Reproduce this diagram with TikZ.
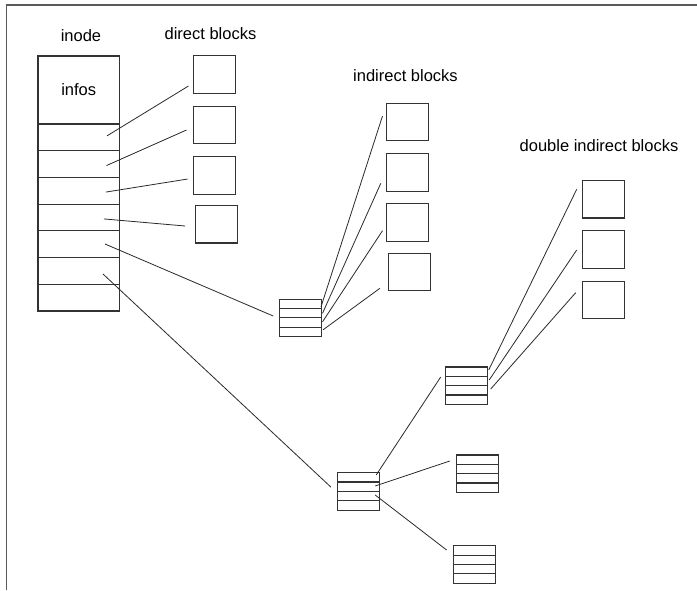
\documentclass[tikz,border=0pt]{standalone}
\usepackage{fontspec}
\setmainfont{Liberation Sans}
\usetikzlibrary{calc}
\definecolor{boxc}{HTML}{333333}
\definecolor{linec}{HTML}{2A2A2A}
\definecolor{framec}{HTML}{5A5A5A}
\tikzset{
  lbl/.style={anchor=base, inner sep=0pt, text=black, font=\fontsize{16.5}{18}\selectfont},
  cell/.style={draw=boxc, line width=1.2pt, minimum width=81.5pt, minimum height=26.7pt, inner sep=0pt, outer sep=0pt},
  datablk/.style={draw=boxc, line width=1.2pt, minimum width=42pt, minimum height=37.5pt, inner sep=0pt, outer sep=0pt},
  ptrblk/.style={draw=boxc, line width=1.2pt, minimum width=42pt, minimum height=37.5pt, inner sep=0pt, outer sep=0pt,
    path picture={
      \foreach \k in {1,2,3}
        \draw[boxc, line width=1.2pt]
          ($(path picture bounding box.north west)!\k/4!(path picture bounding box.south west)$) --
          ($(path picture bounding box.north east)!\k/4!(path picture bounding box.south east)$);
    }},
  conn/.style={draw=linec, line width=0.8pt},
  framel/.style={draw=framec, line width=1.6pt}
}
\begin{document}
\begin{tikzpicture}[x=1pt, y=-1pt]
\useasboundingbox (0,0) rectangle (697,590);
\fill[white] (0,0) rectangle (697,590);
% frame
\draw[framel] (6.5,590) -- (6.5,5) -- (697,5);

% labels
\node[lbl] (tinode) at (81,41) {inode};
\node[lbl] (tdirect) at (210.5,39.3) {direct blocks};
\node[lbl] (tindirect) at (405.5,81) {indirect blocks};
\node[lbl] (tdouble) at (599,151.7) {double indirect blocks};

% inode
\node[cell, minimum height=68pt, font=\fontsize{16.5}{18}\selectfont] (infos) at (78.75,90) {\raisebox{-2pt}{infos}};
\node[cell] (r1) at (78.75,137.35) {};
\node[cell] (r2) at (78.75,164.05) {};
\node[cell] (r3) at (78.75,190.75) {};
\node[cell] (r4) at (78.75,217.45) {};
\node[cell] (r5) at (78.75,244.15) {};
\node[cell] (r6) at (78.75,270.85) {};
\node[cell] (r7) at (78.75,297.55) {};

% direct blocks
\node[datablk] (d1) at (214.5,74.5) {};
\node[datablk] (d2) at (214.5,125) {};
\node[datablk] (d3) at (214.5,175.35) {};
\node[datablk] (d4) at (216.2,224.2) {};

% indirect
\node[ptrblk] (i0) at (300.5,317.85) {};
\node[datablk] (n1) at (407.5,122) {};
\node[datablk] (n2) at (407.5,172.5) {};
\node[datablk] (n3) at (407.5,222.5) {};
\node[datablk] (n4) at (409.2,272) {};

% double indirect
\node[ptrblk] (b0) at (358.5,491.35) {};
\node[ptrblk] (m0) at (466.7,385.7) {};
\node[ptrblk] (c1) at (477.5,473.65) {};
\node[ptrblk] (c2) at (474.2,564.5) {};
\node[datablk] (q1) at (603.3,199.2) {};
\node[datablk] (q2) at (603.3,249.35) {};
\node[datablk] (q3) at (603.3,300) {};

% connectors inode -> direct
\draw[conn] ([shift={(-12.5,-1.5)}]r1.east) -- ([shift={(-5,11.5)}]d1.west);
\draw[conn] ([shift={(-13,1.5)}]r2.east) -- ([shift={(-7,5)}]d2.west);
\draw[conn] ([shift={(-13.5,1.3)}]r3.east) -- ([shift={(-6,3.7)}]d3.west);
\draw[conn] ([shift={(-15.5,1.5)}]r4.east) -- ([shift={(-10,1.8)}]d4.west);
% inode -> indirect pointer block
\draw[conn] ([shift={(-14.5,-0.15)}]r5.east) -- ([shift={(-6.3,-1.85)}]i0.west);
% inode -> double indirect pointer block
\draw[conn] ([shift={(-16.5,3.15)}]r6.east) -- ([shift={(-6.7,-4.35)}]b0.west);

% indirect pointer block -> blocks
\draw[conn] ([shift={(-0.5,-11)}]i0.east) -- ([shift={(-4,-6)}]n1.west);
\draw[conn] ([shift={(1,-4.5)}]i0.east) -- ([shift={(-5.7,10.8)}]n2.west);
\draw[conn] ([shift={(1,4)}]i0.east) -- ([shift={(-4,8.2)}]n3.west);
\draw[conn] ([shift={(1.5,12)}]i0.east) -- ([shift={(-8.3,16.3)}]n4.west);

% double indirect
\draw[conn] ([shift={(-3.3,-16.35)}]b0.east) -- ([shift={(-5,-8.7)}]m0.west);
\draw[conn] ([shift={(-4.3,-5.35)}]b0.east) -- ([shift={(-6.7,-12.65)}]c1.west);
\draw[conn] ([shift={(-4.3,3.65)}]b0.east) -- ([shift={(-6.6,-14.5)}]c2.west);
\draw[conn] ([shift={(1,-15.7)}]m0.east) -- ([shift={(-5.6,-9.9)}]q1.west);
\draw[conn] ([shift={(1.5,-5.7)}]m0.east) -- ([shift={(-5.6,0.65)}]q2.west);
\draw[conn] ([shift={(3,3.3)}]m0.east) -- ([shift={(-6.6,-7.3)}]q3.west);
\end{tikzpicture}
\end{document}
